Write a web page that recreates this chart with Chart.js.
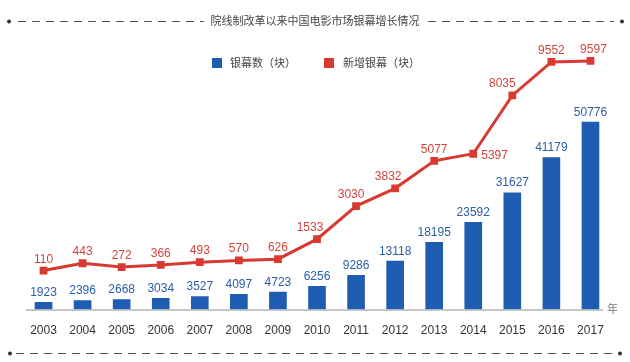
<!DOCTYPE html>
<html>
<head>
<meta charset="utf-8">
<script src="https://cdn.jsdelivr.net/npm/chart.js@4"></script>
<style>
  html, body { margin: 0; padding: 0; background: #fff; }
  #wrap { width: 630px; height: 362px; position: relative; }
</style>
</head>
<body>
<div id="wrap"><canvas id="chart"></canvas></div>
<script>
// ── Dados ──────────────────────────────────────────────
const years = ['2003','2004','2005','2006','2007','2008','2009','2010','2011','2012','2013','2014','2015','2016','2017'];
const screens = [1923, 2396, 2668, 3034, 3527, 4097, 4723, 6256, 9286, 13118, 18195, 23592, 31627, 41179, 50776];
const newScreens = [110, 443, 272, 366, 493, 570, 626, 1533, 3030, 3832, 5077, 5397, 8035, 9552, 9597];

const titleText = '院线制改革以来中国电影市场银幕增长情况';
const legendScreens = '银幕数（块）';
const legendNew = '新增银幕（块）';
const unitText = '年';

const FONT = "'Liberation Sans', 'Noto Sans CJK SC', sans-serif";
const CJK = "'Noto Sans CJK SC', sans-serif";
const BLUE = '#1f5db2';
const RED = '#d83a31';

// deslocamento horizontal dos rótulos da linha
const lineLabelDx = [0, 0, 0, 0, 0, 0, 0, -7, -5, -7, 0, 0, -10, 0, 3];

function dashed(ctx, x1, x2, y) {
  ctx.save();
  ctx.strokeStyle = '#555';
  ctx.lineWidth = 1;
  ctx.setLineDash([8, 6]);
  ctx.beginPath(); ctx.moveTo(x1, y); ctx.lineTo(x2, y); ctx.stroke();
  ctx.restore();
}
function dot(ctx, x, y) {
  ctx.fillStyle = '#333';
  ctx.beginPath(); ctx.arc(x, y, 2, 0, Math.PI * 2); ctx.fill();
}

const decor = {
  id: 'decor',
  afterDraw(chart) {
    const ctx = chart.ctx;
    ctx.save();

    // título com tracejado
    ctx.font = '11px ' + CJK;
    ctx.fillStyle = '#444';
    ctx.textAlign = 'center';
    ctx.textBaseline = 'middle';
    ctx.fillText(titleText, 315, 21);
    dashed(ctx, 18, 204, 21.5);
    dashed(ctx, 428, 614, 21.5);
    dot(ctx, 9, 21.5); dot(ctx, 622, 21.5);

    // linha inferior
    dashed(ctx, 16, 612, 353.5);
    dot(ctx, 10, 353.5); dot(ctx, 620, 353.5);

    // legenda
    ctx.textAlign = 'left';
    ctx.font = '11px ' + CJK;
    ctx.fillStyle = BLUE; ctx.fillRect(212, 58, 10, 10);
    ctx.fillStyle = '#444'; ctx.fillText(legendScreens, 230, 63);
    ctx.fillStyle = RED; ctx.fillRect(324, 58, 10, 10);
    ctx.fillStyle = '#444'; ctx.fillText(legendNew, 343, 63);

    // eixo x
    ctx.strokeStyle = '#b3b3b3';
    ctx.lineWidth = 1.5;
    ctx.beginPath(); ctx.moveTo(26, 310); ctx.lineTo(603, 310); ctx.stroke();
    ctx.font = '11px ' + CJK;
    ctx.fillStyle = '#777';
    ctx.fillText(unitText, 607, 309);

    // rótulos das barras
    ctx.font = '12px ' + FONT;
    ctx.textAlign = 'center';
    ctx.textBaseline = 'alphabetic';
    ctx.fillStyle = '#2b5ea8';
    chart.getDatasetMeta(0).data.forEach((b, i) => {
      ctx.fillText(String(screens[i]), b.x, b.y - 6.5);
    });

    // rótulos da linha
    ctx.fillStyle = '#d2453b';
    chart.getDatasetMeta(1).data.forEach((p, i) => {
      if (i === 11) {
        ctx.textAlign = 'left';
        ctx.fillText(String(newScreens[i]), p.x + 8, p.y + 5);
        ctx.textAlign = 'center';
      } else {
        ctx.fillText(String(newScreens[i]), p.x + lineLabelDx[i], p.y - 8);
      }
    });
    ctx.restore();
  }
};

new Chart(document.getElementById('chart'), {
  data: {
    labels: years,
    datasets: [
      { type: 'bar', label: legendScreens, data: screens, backgroundColor: BLUE,
        barThickness: 17, yAxisID: 'y', order: 1 },
      { type: 'line', label: legendNew, data: newScreens, borderColor: RED, backgroundColor: RED,
        borderWidth: 3, pointStyle: 'rect', pointRadius: 5.5, pointBackgroundColor: RED,
        pointBorderWidth: 0, tension: 0, yAxisID: 'y2', order: 0 }
    ]
  },
  options: {
    responsive: true, maintainAspectRatio: false, animation: false,
    layout: { padding: { left: 24, right: 20, top: 40, bottom: 0 } },
    plugins: { legend: { display: false }, title: { display: false }, tooltip: { enabled: false } },
    scales: {
      x: {
        offset: true,
        grid: { display: false },
        border: { display: false },
        ticks: { color: '#333', font: { family: FONT, size: 12 }, padding: 6, maxRotation: 0, autoSkip: false },
        afterFit(s) { s.height = 52.5; }
      },
      y: { display: false, min: 0, max: 73000 },
      y2: { display: false, position: 'right', min: -1650, max: 10543 }
    }
  },
  plugins: [decor]
});
</script>
</body>
</html>
